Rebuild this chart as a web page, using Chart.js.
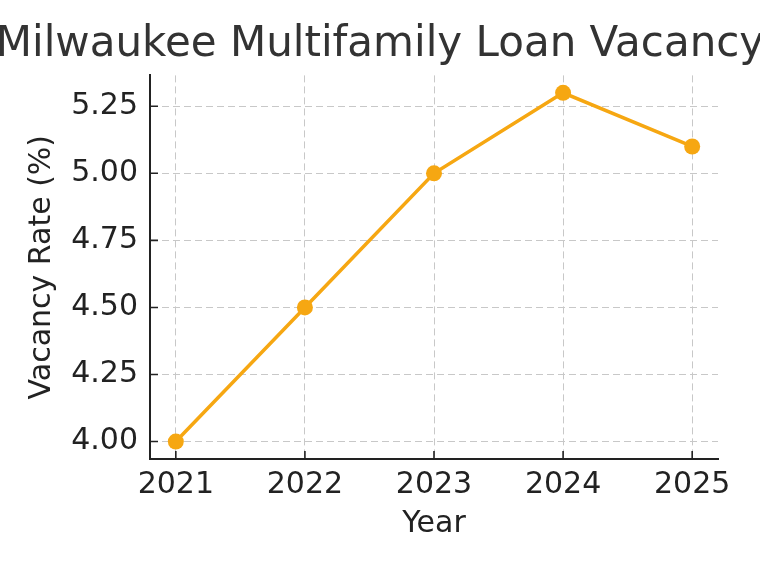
<!DOCTYPE html>
<html>
<head>
<meta charset="utf-8">
<script src="https://cdn.jsdelivr.net/npm/chart.js@4"></script>
<style>
  html, body { margin: 0; padding: 0; background: #fff; overflow: hidden; width: 760px; height: 570px; }
  /* canvas um pouco mais largo que a janela: o título sai cortado dos dois lados, como no original */
  #wrap { width: 800px; height: 570px; margin-left: -20px; }
</style>
</head>
<body>
<div id="wrap"><canvas id="chart"></canvas></div>
<script>
// dados
const years = [2021, 2022, 2023, 2024, 2025];
const vacancy = [4.0, 4.5, 5.0, 5.3, 5.1];
const yTicks = [4.00, 4.25, 4.50, 4.75, 5.00, 5.25];

const lineColor = '#f6a712';
const fontFamily = '"DejaVu Sans", sans-serif';

// ticks para dentro, estilo matplotlib
const inwardTicks = {
    id: 'inwardTicks',
    afterDraw(chart) {
        const ctx = chart.ctx;
        const xs = chart.scales.x, ys = chart.scales.y;
        const area = chart.chartArea;
        ctx.save();
        ctx.strokeStyle = '#222';
        ctx.lineWidth = 1.6;
        ctx.beginPath();
        years.forEach(v => {
            const px = xs.getPixelForValue(v);
            ctx.moveTo(px, area.bottom);
            ctx.lineTo(px, area.bottom - 8);
        });
        yTicks.forEach(v => {
            const py = ys.getPixelForValue(v);
            ctx.moveTo(area.left, py);
            ctx.lineTo(area.left + 8, py);
        });
        ctx.stroke();
        ctx.restore();
    }
};

new Chart(document.getElementById('chart'), {
    type: 'line',
    data: {
        datasets: [{
            data: years.map((y, i) => ({ x: y, y: vacancy[i] })),
            borderColor: lineColor,
            backgroundColor: lineColor,
            borderWidth: 3.5,
            pointRadius: 8,
            pointHoverRadius: 8,
            pointBorderWidth: 0,
            tension: 0,
            fill: false
        }]
    },
    options: {
        responsive: true,
        maintainAspectRatio: false,
        animation: false,
        layout: { padding: 0 },
        plugins: {
            legend: { display: false },
            tooltip: { enabled: false },
            title: {
                display: true,
                text: 'Milwaukee Multifamily Loan Vacancy',
                color: '#333',
                font: { family: fontFamily, size: 42, weight: 'normal' },
                padding: { top: 20, bottom: 5 }
            }
        },
        scales: {
            x: {
                type: 'linear',
                min: 2020.8,
                max: 2025.2,
                afterBuildTicks: s => { s.ticks = years.map(v => ({ value: v })); },
                afterFit: s => { s.height = 111; },
                ticks: {
                    color: '#222',
                    padding: 8,
                    font: { family: fontFamily, size: 30 },
                    callback: v => String(v)
                },
                grid: {
                    color: '#c8c8c8',
                    lineWidth: 1,
                    drawTicks: false
                },
                border: { color: '#222', width: 2, dash: [7, 4] },
                title: {
                    display: true,
                    text: 'Year',
                    color: '#222',
                    font: { family: fontFamily, size: 30 },
                    padding: { top: 0, bottom: 28 }
                }
            },
            y: {
                min: 3.935,
                max: 5.365,
                afterBuildTicks: s => { s.ticks = yTicks.map(v => ({ value: v })); },
                afterFit: s => { s.width = 170; },
                ticks: {
                    color: '#222',
                    padding: 12,
                    font: { family: fontFamily, size: 30 },
                    callback: v => Number(v).toFixed(2)
                },
                grid: {
                    color: '#c8c8c8',
                    lineWidth: 1,
                    drawTicks: false
                },
                border: { color: '#222', width: 2, dash: [7, 4] },
                title: {
                    display: true,
                    text: 'Vacancy Rate (%)',
                    color: '#222',
                    font: { family: fontFamily, size: 30 },
                    padding: { top: 44, bottom: 0 }
                }
            },
            // eixo vazio só para reservar a margem direita sem encolher o título
            yRight: {
                position: 'right',
                min: 0,
                max: 1,
                afterFit: s => { s.width = 62; },
                ticks: { display: false },
                grid: { display: false, drawTicks: false },
                border: { display: false }
            }
        }
    },
    plugins: [inwardTicks]
});
</script>
</body>
</html>
